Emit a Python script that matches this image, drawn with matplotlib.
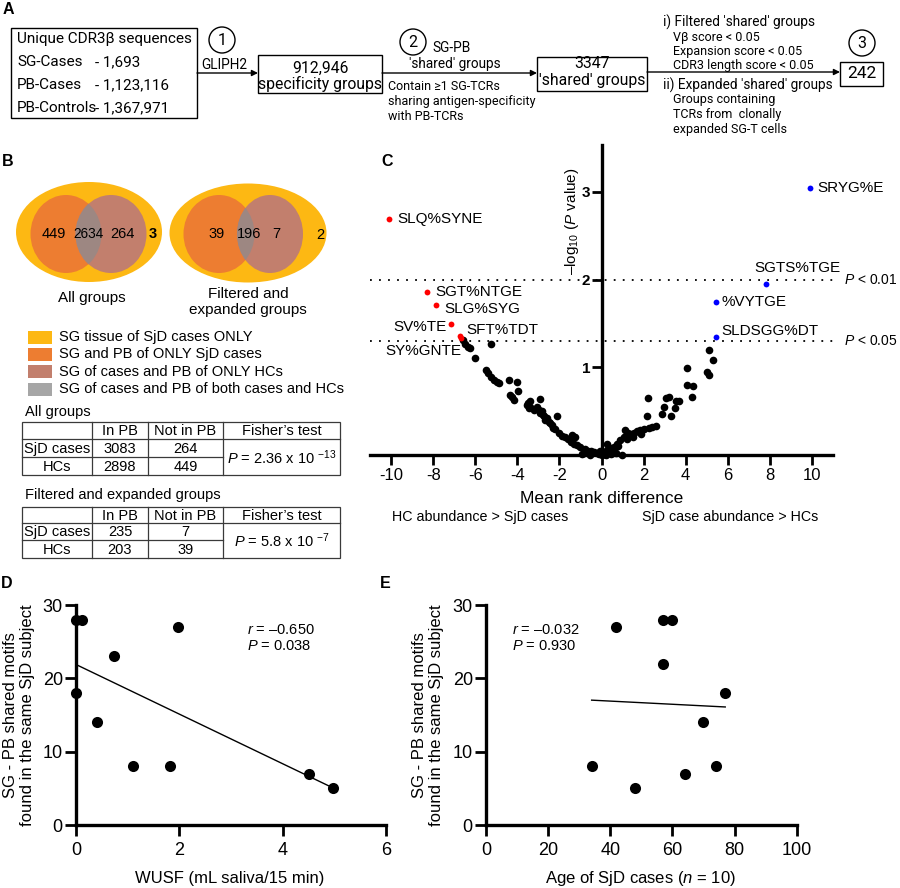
import numpy as np
import matplotlib
matplotlib.use("Agg")
import matplotlib.pyplot as plt
from matplotlib.patches import Ellipse, Circle, Rectangle

plt.rcParams['font.family'] = ['Liberation Sans', 'DejaVu Sans']
plt.rcParams['mathtext.fontset'] = 'custom'
plt.rcParams['mathtext.rm'] = 'Liberation Sans'
plt.rcParams['mathtext.it'] = 'Liberation Sans:italic'
plt.rcParams['mathtext.bf'] = 'Liberation Sans:bold'
plt.rcParams['axes.unicode_minus'] = False

# ---- panel A: pipeline counts
seq_labels = ['SG-Cases', 'PB-Cases', 'PB-Controls']
seq_counts = ['1,693', '1,123,116', '1,367,971']
n_specificity = '912,946'
n_shared = '3347'
n_final = '242'
filter_lines = ['V\u03b2 score < 0.05', 'Expansion score < 0.05', 'CDR3 length score < 0.05']
expand_lines = ['Groups containing', 'TCRs from  clonally', 'expanded SG-T cells']

# ---- panel B: venn counts (SjD only, both, HC only, SG only)
venn_all = [449, 2634, 264, 3]
venn_filt = [39, 196, 7, 2]
legend_labels = ['SG tissue of SjD cases ONLY', 'SG and PB of ONLY SjD cases',
                 'SG of cases and PB of ONLY HCs', 'SG of cases and PB of both cases and HCs']
legend_colors = ['#FDB813', '#ED7D31', '#C27F6D', '#A6A6A6']
overlap_color = '#9D8782'
table_head = ['', 'In PB', 'Not in PB', "Fisher\u2019s test"]
table_rows = ['SjD cases', 'HCs']
all_in_pb = [3083, 2898]
all_not_pb = [264, 449]
all_p = ('2.36', '-13')
filt_in_pb = [235, 203]
filt_not_pb = [7, 39]
filt_p = ('5.8', '-7')

# ---- panel C: volcano
black_x = [-6.60, -6.48, -6.32, -6.24, -5.24, -6.00, -5.48, -5.37, -5.25, -5.13, -4.97, -4.89,
           -4.41, -4.01, -3.98, -4.33, -4.25, -4.14, -3.54, -3.38, -3.46, -3.22, -2.98, -2.94,
           -3.06, -3.50, -3.40, -2.90, -2.85, -2.80, -2.75, -2.67, -2.60, -2.51, -2.45, -2.35,
           -2.30, -2.19, -2.11, -2.03, -1.90, -1.75, -1.60, -1.40, -1.32, -1.24, -1.45, -1.30,
           -1.15, -1.00, -0.92, -0.84, -0.80, -0.65, -0.55, -0.50, -0.35, -0.20, -0.10, -0.05,
           0.00, 0.05,
           5.11, 5.30, 5.03, 5.11, 4.05, 4.05, 4.35, 4.30, 2.22, 3.05, 3.20, 2.97, 3.52, 3.68,
           3.48, 3.29, 2.89, 2.17, 2.57, 2.41, 2.25, 2.02, 1.83, 1.70, 1.54, 1.38, 1.27, 1.14,
           1.25, 1.06, 0.90, 0.75, 0.59, 0.43, 0.27, 0.11, 0.27, 0.98, 0.67, 0.45, 0.20, 1.50,
           1.90, 1.20, 0.80, 0.50]
black_y = [1.31, 1.27, 1.235, 1.22, 1.27, 1.11, 0.97, 0.93, 0.89, 0.86, 0.835, 0.82,
           0.855, 0.83, 0.73, 0.68, 0.66, 0.63, 0.57, 0.61, 0.53, 0.51, 0.51, 0.64,
           0.55, 0.59, 0.55, 0.475, 0.50, 0.46, 0.44, 0.40, 0.42, 0.38, 0.36, 0.34,
           0.31, 0.30, 0.44, 0.25, 0.22, 0.20, 0.18, 0.23, 0.21, 0.20, 0.15, 0.13,
           0.11, 0.09, 0.01, 0.02, 0.07, 0.05, 0.00, 0.04, 0.03, 0.02, 0.01, 0.05,
           0.00, 0.03,
           1.197, 1.083, 0.95, 0.91, 0.99, 0.80, 0.79, 0.66, 0.645, 0.645, 0.66, 0.55, 0.61, 0.61,
           0.53, 0.445, 0.47, 0.445, 0.33, 0.32, 0.31, 0.30, 0.28, 0.27, 0.25, 0.235, 0.23, 0.29,
           0.255, 0.21, 0.17, 0.13, 0.095, 0.076, 0.057, 0.038, 0.125, 0.00, 0.02, 0.01, 0.00, 0.20,
           0.24, 0.18, 0.10, 0.05]
red_x = [-10.1, -8.27, -7.86, -7.14, -6.73, -6.68]
red_y = [2.69, 1.86, 1.71, 1.49, 1.357, 1.33]
red_labels = ['SLQ%SYNE', 'SGT%NTGE', 'SLG%SYG', 'SV%TE', 'SFT%TDT', 'SY%GNTE']
blue_x = [9.9, 7.84, 5.43, 5.43]
blue_y = [3.04, 1.95, 1.74, 1.35]
blue_labels = ['SRYG%E', 'SGTS%TGE', '%VYTGE', 'SLDSGG%DT']
p_lines = [2.0, 1.301]
p_line_labels = ['$P$ < 0.01', '$P$ < 0.05']

# ---- panels D/E: correlations
wusf = [0.0, 0.11, 0.0, 0.41, 0.735, 1.10, 1.82, 1.98, 4.50, 4.97]
motifs_d = [28, 28, 18, 14, 23, 8, 8, 27, 7, 5]
age = [42, 57, 60, 57, 77, 70, 34, 74, 48, 64]
motifs_e = [27, 28, 28, 22, 18, 14, 8, 8, 5, 7]
stats_d = ('\u20130.650', '0.038')
stats_e = ('\u20130.032', '0.930')

fig = plt.figure(figsize=(9, 8.88), dpi=100)
ov = fig.add_axes([0, 0, 1, 1])
ov.set_xlim(0, 900)
ov.set_ylim(888, 0)
ov.axis('off')

A_FONT = ['Roboto', 'DejaVu Sans']


def atext(x, y, s, size, ha='left', **kw):
    ov.text(x, y, s, fontsize=size, ha=ha, va='center', family=A_FONT, **kw)


def arrow(x0, x1, y):
    ov.annotate('', xy=(x1, y), xytext=(x0, y),
                arrowprops=dict(arrowstyle='-|>', lw=1, color='black',
                                mutation_scale=9, shrinkA=0, shrinkB=0))


# panel letters
for lab, (x, y) in zip('ABCDE', [(8, 10), (8, 161), (387, 161), (7, 583), (385, 583)]):
    ov.text(x, y, lab, fontsize=11.5, fontweight='bold', ha='center', va='center')

# ---------------- A
ov.add_patch(Rectangle((11, 28), 186, 90, fill=False, lw=1, ec='black'))
atext(17, 39, 'Unique CDR3\u03b2 sequences', 11)
for i, (lab, cnt) in enumerate(zip(seq_labels, seq_counts)):
    y = 62 + i * 23
    atext(17, y, lab, 11)
    atext(95, y, '- ' + cnt, 11)

for (cx, cy), num in zip([(222, 40), (413, 42), (862, 43)], ['1', '2', '3']):
    ov.add_patch(Circle((cx, cy), 13, fill=False, lw=1, ec='black'))
    atext(cx, cy + 0.5, num, 11.5, ha='center')

atext(224, 65, 'GLIPH2', 9.8, ha='center')
arrow(197, 258, 73)
ov.add_patch(Rectangle((258, 55), 124, 38, fill=False, lw=1, ec='black'))
atext(320, 68, n_specificity, 11.3, ha='center')
atext(320, 84, 'specificity groups', 11.3, ha='center')

arrow(382, 537, 73)
atext(452, 48, 'SG-PB', 9.8, ha='center')
atext(455, 64, "'shared' groups", 9.8, ha='center')
for i, s in enumerate(['Contain \u22651 SG-TCRs', 'sharing antigen-specificity', 'with PB-TCRs']):
    atext(388, 87 + i * 14.5, s, 9)

ov.add_patch(Rectangle((537, 57), 110, 34, fill=False, lw=1, ec='black'))
atext(592, 64, n_shared, 11.3, ha='center')
atext(592, 81, "'shared' groups", 11.3, ha='center')

arrow(647, 840, 72)
atext(663, 22, "i) Filtered 'shared' groups", 9.8)
for i, s in enumerate(filter_lines):
    atext(673, 37 + i * 14.5, s, 9)
atext(663, 85, "ii) Expanded 'shared' groups", 9.8)
for i, s in enumerate(expand_lines):
    atext(673, 100 + i * 14.5, s, 9)
ov.add_patch(Rectangle((840, 62), 43, 24, fill=False, lw=1, ec='black'))
atext(861.5, 74, n_final, 12.5, ha='center')

# ---------------- B venns


def venn(outer_c, outer_wh, lc, rc, circ_wh, counts, pos, big_size):
    ov.add_patch(Ellipse(outer_c, *outer_wh, fc=legend_colors[0], ec='none'))
    left = Ellipse(lc, *circ_wh[0], fc=legend_colors[1], ec='none')
    ov.add_patch(left)
    ov.add_patch(Ellipse(rc, *circ_wh[1], fc=legend_colors[2], ec='none'))
    lens = Ellipse(rc, *circ_wh[1], fc=overlap_color, ec='none')
    ov.add_patch(lens)
    lens.set_clip_path(left)
    sizes = [10.5, big_size, 10.5]
    for (x, y), c, fs in zip(pos, counts[:3], sizes):
        ov.text(x, y, str(c), fontsize=fs, ha='center', va='center')


venn((89, 232), (146, 100), (66, 234), (111, 234), [(71, 78), (71, 78)],
     venn_all, [(54, 234), (88, 234), (122, 234)], 9.8)
ov.text(153, 234, str(venn_all[3]), fontsize=10.5, fontweight='bold', ha='center', va='center')
venn((248, 233), (157, 99), (219, 234), (270, 234), [(71, 78), (66, 78)],
     venn_filt, [(217, 234), (249, 234), (276, 234)], 10.5)
ov.text(320, 235, str(venn_filt[3]), fontsize=10.5, ha='center', va='center')
ov.text(92, 298, 'All groups', fontsize=11, ha='center', va='center')
ov.text(248, 302, 'Filtered and\nexpanded groups', fontsize=11, ha='center', va='center',
        linespacing=1.2)

for i, (lab, col) in enumerate(zip(legend_labels, legend_colors)):
    y = 337 + i * 17.4
    ov.add_patch(Rectangle((28, y - 6.5), 24, 13, fc=col, ec='none'))
    ov.text(59, y, lab, fontsize=10.5, va='center')

# ---------------- B tables
LINE = '#3a3a3a'


def table(title, title_y, edges, in_pb, not_pb, p):
    xe = [22, 92, 148, 223, 340]
    top, h1, h2, bot = edges
    ov.text(25, title_y, title, fontsize=10.5, va='center')
    ov.add_patch(Rectangle((xe[0], top), xe[-1] - xe[0], bot - top, fill=False, lw=0.9, ec=LINE))
    ov.plot([xe[0], xe[-1]], [h1, h1], color=LINE, lw=0.9)
    ov.plot([xe[0], xe[3]], [h2, h2], color=LINE, lw=0.9)
    for x in xe[1:4]:
        ov.plot([x, x], [top, bot], color=LINE, lw=0.9)
    cx = [(a + b) / 2 for a, b in zip(xe[:-1], xe[1:])]
    for c, h in zip(cx, table_head):
        ov.text(c, (top + h1) / 2 + 0.5, h, fontsize=10.5, ha='center', va='center')
    for r, (name, a, b) in enumerate(zip(table_rows, in_pb, not_pb)):
        ym = [(h1 + h2) / 2, (h2 + bot) / 2][r] + 0.5
        ov.text(cx[0], ym, name, fontsize=10.5, ha='center', va='center')
        ov.text(cx[1], ym, str(a), fontsize=10.5, ha='center', va='center')
        ov.text(cx[2], ym, str(b), fontsize=10.5, ha='center', va='center')
    ov.text(cx[3], (h1 + bot) / 2 + 0.5,
            r'$P$ = %s x 10 ${}^{\mathregular{%s}}$' % p, fontsize=10.5, ha='center', va='center')


table('All groups', 412, [422, 439, 457, 475], all_in_pb, all_not_pb, all_p)
table('Filtered and expanded groups', 495, [507, 523, 540, 558], filt_in_pb, filt_not_pb, filt_p)

# ---------------- C volcano
axc = fig.add_axes([370 / 900, 1 - 455 / 888, 463 / 900, 310 / 888])
axc.patch.set_alpha(0)
axc.set_xlim(-11, 11)
axc.set_ylim(0, 310 / 87.75)
for s in ['top', 'right']:
    axc.spines[s].set_visible(False)
axc.spines['left'].set_position(('data', 0))
for s in ['left', 'bottom']:
    axc.spines[s].set_linewidth(2.4)
axc.set_xticks(np.arange(-10, 11, 2))
axc.set_yticks([1, 2, 3])
axc.tick_params(axis='x', length=7, width=2, labelsize=12, pad=2)
axc.tick_params(axis='y', length=7, width=2, labelsize=11, pad=1)
for t in axc.get_yticklabels():
    t.set_fontweight('bold')

for yl in p_lines:
    axc.axhline(yl, color='black', lw=1.3, ls=(0, (1, 4)), zorder=1)

axc.plot(black_x, black_y, 'o', color='black', ms=5.5, mew=0, clip_on=False, zorder=3)
axc.plot(red_x, red_y, 'o', color='#FF0000', ms=4.2, mew=0, clip_on=False, zorder=4)
axc.plot(blue_x, blue_y, 'o', color='#0000FF', ms=4.2, mew=0, clip_on=False, zorder=4)

red_offsets = [(8, 0, 'left'), (8, 0, 'left'), (8, -4, 'left'), (-5, -2.5, 'right'),
               (6, 6, 'left'), (0, -13, 'right')]
blue_offsets = [(8, 0, 'left'), (31, 16, 'center'), (6, 0, 'left'), (6, 6, 'left')]
for xs, ys, labs, offs in [(red_x, red_y, red_labels, red_offsets),
                           (blue_x, blue_y, blue_labels, blue_offsets)]:
    for x, y, lab, (dx, dy, ha) in zip(xs, ys, labs, offs):
        axc.annotate(lab, (x, y), xytext=(dx, dy), textcoords='offset pixels',
                     ha=ha, va='center', fontsize=11)

for yl, lab in zip(p_lines, p_line_labels):
    axc.annotate(lab, (11, yl), xytext=(11, 0), textcoords='offset pixels',
                 ha='left', va='center', fontsize=10, annotation_clip=False)

ov.text(572, 221, '\u2013log$_{10}$ ($P$ value)', rotation=90, ha='center', va='center', fontsize=11)
ov.text(602, 498, 'Mean rank difference', fontsize=12.5, ha='center', va='center')
ov.text(480, 517, 'HC abundance > SjD cases', fontsize=10.3, ha='center', va='center')
ov.text(730, 517, 'SjD case abundance > HCs', fontsize=10.3, ha='center', va='center')

# ---------------- D / E


def corr_panel(rect, x, y, xlim, xticks, stats, stats_xy, xlabel, xlabel_x, ylab_x):
    ax = fig.add_axes(rect)
    ax.patch.set_alpha(0)
    ax.set_xlim(*xlim)
    ax.set_ylim(0, 30)
    ax.plot(x, y, 'o', color='black', ms=8, mew=0, clip_on=False, zorder=3)
    k, b = np.polyfit(x, y, 1)
    xx = np.array([min(x), max(x)])
    ax.plot(xx, k * xx + b, color='black', lw=1)
    for s in ['top', 'right']:
        ax.spines[s].set_visible(False)
    for s in ['left', 'bottom']:
        ax.spines[s].set_linewidth(2.4)
    ax.set_xticks(xticks)
    ax.set_yticks([0, 10, 20, 30])
    ax.tick_params(length=8, width=2, labelsize=13)
    ax.tick_params(axis='y', pad=1.5)
    ax.tick_params(axis='x', pad=4)
    ov.text(stats_xy[0], stats_xy[1], '$r$ = %s\n$P$ = %s' % stats, fontsize=10.5,
            ha='left', va='center', linespacing=1.25)
    ov.text(xlabel_x, 878, xlabel, fontsize=12, ha='center', va='center')
    ov.text(ylab_x, 715, 'SG - PB shared motifs\nfound in the same SjD subject', rotation=90,
            fontsize=12, ha='center', va='center', linespacing=1.15)
    return ax


corr_panel([76 / 900, 1 - 825 / 888, 310 / 900, 220 / 888], wusf, motifs_d, (0, 6),
           [0, 2, 4, 6], stats_d, (247, 638), 'WUSF (mL saliva/15 min)', 230, 19)
corr_panel([486 / 900, 1 - 825 / 888, 310.7 / 900, 220 / 888], age, motifs_e, (0, 100),
           [0, 20, 40, 60, 80, 100], stats_e, (512, 638), 'Age of SjD cases ($n$ = 10)', 640, 428)

fig.savefig('out.png', dpi=100)
